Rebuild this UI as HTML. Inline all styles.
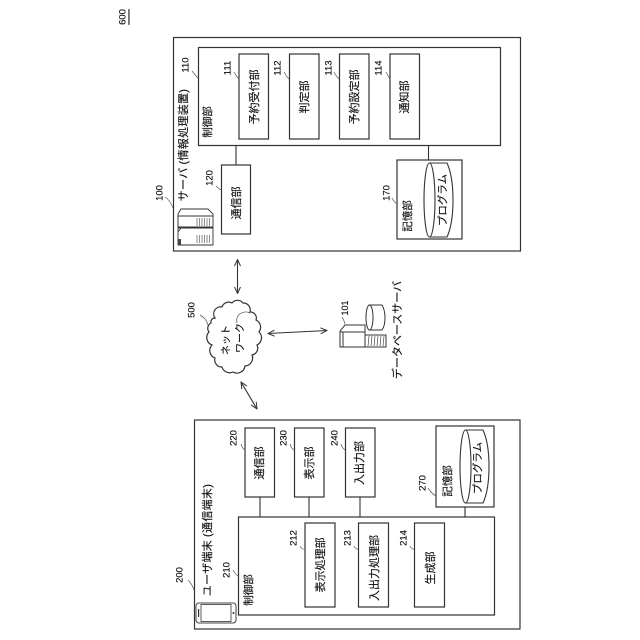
<!DOCTYPE html>
<html><head><meta charset="utf-8"><style>
html,body{margin:0;padding:0;background:#fff}
svg{display:block}
text{font-family:"Liberation Sans","Noto Sans CJK JP",sans-serif;fill:#111;stroke:#111;stroke-width:.15;font-size:11px;text-anchor:middle;dominant-baseline:central}
.n{font-size:9.5px}
.b{fill:#fff;stroke:#333;stroke-width:1.2}
.l{fill:none;stroke:#333;stroke-width:1.1}
.t{fill:none;stroke:#555;stroke-width:.7}
</style></head><body>
<svg width="640" height="640" viewBox="0 0 640 640" xmlns="http://www.w3.org/2000/svg">
<defs><marker id="a" viewBox="0 0 8 8" refX="7.5" refY="4" markerWidth="8" markerHeight="8" orient="auto-start-reverse" markerUnits="userSpaceOnUse"><path d="M1 1L7.5 4L1 7" fill="none" stroke="#333"/></marker></defs>

<text class="n" transform="translate(123,17) rotate(-90)" style="text-decoration:underline">600</text>

<!-- server -->
<rect class="b" x="173.500" y="37.500" width="347" height="213.500"/>
<rect class="b" x="198.500" y="47.500" width="302" height="98"/>
<rect class="b" x="239" y="54" width="29.500" height="85"/>
<rect class="b" x="289.500" y="54" width="29.500" height="85"/>
<rect class="b" x="339.500" y="54" width="29.500" height="85"/>
<rect class="b" x="390" y="54" width="29.500" height="85"/>
<rect class="b" x="221.500" y="165" width="29" height="69"/>
<rect class="b" x="397" y="160" width="65" height="79"/>
<path class="l" d="M236 145.500V165M428.500 145.500V160"/>
<ellipse class="l" cx="429.500" cy="200" rx="5.500" ry="37"/>
<path class="l" d="M429.500 163H447Q453 176 453 200T447 237H429.500"/>
<text transform="translate(208,122) rotate(-90)" style="font-size:10.500px">制御部</text>
<text transform="translate(255,97) rotate(-90)">予約受付部</text>
<text transform="translate(305,97) rotate(-90)">判定部</text>
<text transform="translate(355,97) rotate(-90)">予約設定部</text>
<text transform="translate(405,97) rotate(-90)">通知部</text>
<text transform="translate(237,203) rotate(-90)">通信部</text>
<text transform="translate(408,216) rotate(-90)" style="font-size:10.500px">記憶部</text>
<text transform="translate(443,200) rotate(-90)" style="font-size:10.500px">プログラム</text>
<text transform="translate(184,145) rotate(-90)" style="letter-spacing:.3px">サーバ<tspan dx="3">(</tspan>情報処理装置)</text>
<text class="n" transform="translate(186,65) rotate(-90)">110</text>
<text class="n" transform="translate(228,68) rotate(-90)">111</text>
<text class="n" transform="translate(278,68) rotate(-90)">112</text>
<text class="n" transform="translate(329,68) rotate(-90)">113</text>
<text class="n" transform="translate(379,68) rotate(-90)">114</text>
<text class="n" transform="translate(210,178) rotate(-90)">120</text>
<text class="n" transform="translate(387,193) rotate(-90)">170</text>
<text class="n" transform="translate(160,193) rotate(-90)">100</text>
<path class="t" d="M192 71Q196 76 198 78M234 72Q236 76 239 79M284 72Q286 76 289 79M334 72Q336 76 339 79M386 72Q388 76 390 79M216 186Q218 188 221 190M392 198Q394 202 397 204M165 197Q170 200 173 208"/>
<!-- server icon -->
<g fill="#fff" stroke="#333" stroke-width=".9">
<path d="M181 209H208L213 214V227H178V214Z"/><path d="M178 228H213V245H178Z"/>
<path d="M178 216H213M178 232L181 228M178 216V227"/>
</g>
<path fill="none" stroke="#444" stroke-width=".6" d="M197 218V226M199.500 218V226M202 218V226M204.500 218V226M207 218V226M209.500 218V226M197 235V243M199.500 235V243M202 235V243M204.500 235V243M207 235V243M209.500 235V243"/>
<rect x="178" y="239" width="3" height="6" fill="#444"/>

<!-- arrows -->
<path class="l" marker-start="url(#a)" marker-end="url(#a)" d="M237.500 259.500V293.500"/>
<path class="l" marker-start="url(#a)" marker-end="url(#a)" d="M268 333.500L327 330.500"/>
<path class="l" marker-start="url(#a)" marker-end="url(#a)" d="M241 382L257 409"/>

<!-- cloud -->
<path class="b" d="M215 318A7 7 0 0 1 222 307A7 7 0 0 1 232 303A7 7 0 0 1 243 303A7 7 0 0 1 250 312A6 6 0 0 1 256 320A8 8 0 0 1 259 332A8 8 0 0 1 257 345A7 7 0 0 1 252 355A8 8 0 0 1 245 366A8 8 0 0 1 233 372A8 8 0 0 1 222 367A7 7 0 0 1 215 358A8 8 0 0 1 212 345A8 8 0 0 1 209 332A6 6 0 0 1 211 323A4 4 0 0 1 215 318Z"/>
<path class="t" d="M237 323C235 314 244 310 250 313"/>
<text class="n" transform="translate(192,310) rotate(-90)">500</text>
<path class="t" d="M200 315Q206 318 208 325"/>
<text transform="translate(227,340) rotate(-90)" style="font-size:10px">ネット</text>
<text transform="translate(241,338) rotate(-90)" style="font-size:10px">ワーク</text>

<!-- database -->
<g fill="#fff" stroke="#333" stroke-width="1">
<path d="M345 325H365V347H340V331Z"/><path d="M365 335H386V347H365Z"/>
<path d="M369 305H382Q385 310 385 318T382 330H369Z"/>
<ellipse cx="369.500" cy="317.500" rx="3.500" ry="12.500"/>
<path d="M340 332H365M343 332V347"/>
</g>
<path fill="none" stroke="#444" stroke-width=".7" d="M369 336L368 346M372 336L371 346M375 336L374 346M378 336L377 346M381 336L380 346M384 336L383 346"/>
<text class="n" transform="translate(345,308) rotate(-90)" style="font-size:9px">101</text>
<path class="t" d="M342 317Q344 320 345 324"/>
<text transform="translate(398,330) rotate(-90)">データベースサーバ</text>

<!-- user -->
<rect class="b" x="194.500" y="420" width="325.500" height="209"/>
<rect class="b" x="238.500" y="517" width="256" height="98"/>
<rect class="b" x="245" y="428" width="29.500" height="69"/>
<rect class="b" x="294.500" y="428" width="29.500" height="69"/>
<rect class="b" x="345.500" y="428" width="29.500" height="69"/>
<rect class="b" x="436" y="426" width="58" height="81"/>
<rect class="b" x="305" y="523" width="30" height="84"/>
<rect class="b" x="358.500" y="523" width="30" height="84"/>
<rect class="b" x="414.500" y="523" width="30" height="84"/>
<path class="l" d="M260 497V517M309 497V517M360 497V517M465 507V517"/>
<ellipse class="l" cx="465.500" cy="466.500" rx="5.500" ry="36.500"/>
<path class="l" d="M465.500 430H483Q489 443 489 466.500T483 503H465.500"/>
<text transform="translate(260,463) rotate(-90)">通信部</text>
<text transform="translate(310,463) rotate(-90)">表示部</text>
<text transform="translate(360,463) rotate(-90)">入出力部</text>
<text transform="translate(321,565) rotate(-90)">表示処理部</text>
<text transform="translate(375,568) rotate(-90)">入出力処理部</text>
<text transform="translate(431,568) rotate(-90)">生成部</text>
<text transform="translate(249,590) rotate(-90)" style="font-size:10.500px">制御部</text>
<text transform="translate(448,481) rotate(-90)" style="font-size:10.500px">記憶部</text>
<text transform="translate(478,468) rotate(-90)" style="font-size:10.500px">プログラム</text>
<text transform="translate(208,540) rotate(-90)" style="letter-spacing:.3px">ユーザ端末<tspan dx="3">(</tspan>通信端末)</text>
<text class="n" transform="translate(180,575) rotate(-90)">200</text>
<text class="n" transform="translate(227,570) rotate(-90)">210</text>
<text class="n" transform="translate(234,438) rotate(-90)">220</text>
<text class="n" transform="translate(284,438) rotate(-90)">230</text>
<text class="n" transform="translate(335,438) rotate(-90)">240</text>
<text class="n" transform="translate(294,538) rotate(-90)">212</text>
<text class="n" transform="translate(348,538) rotate(-90)">213</text>
<text class="n" transform="translate(404,538) rotate(-90)">214</text>
<text class="n" transform="translate(423,483) rotate(-90)">270</text>
<path class="t" d="M188 580Q192 584 194 590M233 570Q235 574 238 576M241 444Q242 448 245 450M290 444Q291 448 294 450M341 444Q342 448 345 450M300 546Q302 550 305 549M354 546Q356 550 358 549M410 546Q412 550 414 549M428 488Q432 494 436 496"/>
<!-- phone icon -->
<rect x="196" y="603" width="40" height="20" rx="3" fill="#fff" stroke="#444" stroke-width="1"/>
<rect x="201" y="604.500" width="30" height="17" fill="#fff" stroke="#333" stroke-width=".8"/>
<circle cx="233.500" cy="613" r="1" fill="#333"/>
<rect x="198" y="609" width="1.200" height="8" fill="#333"/>
</svg>
</body></html>
